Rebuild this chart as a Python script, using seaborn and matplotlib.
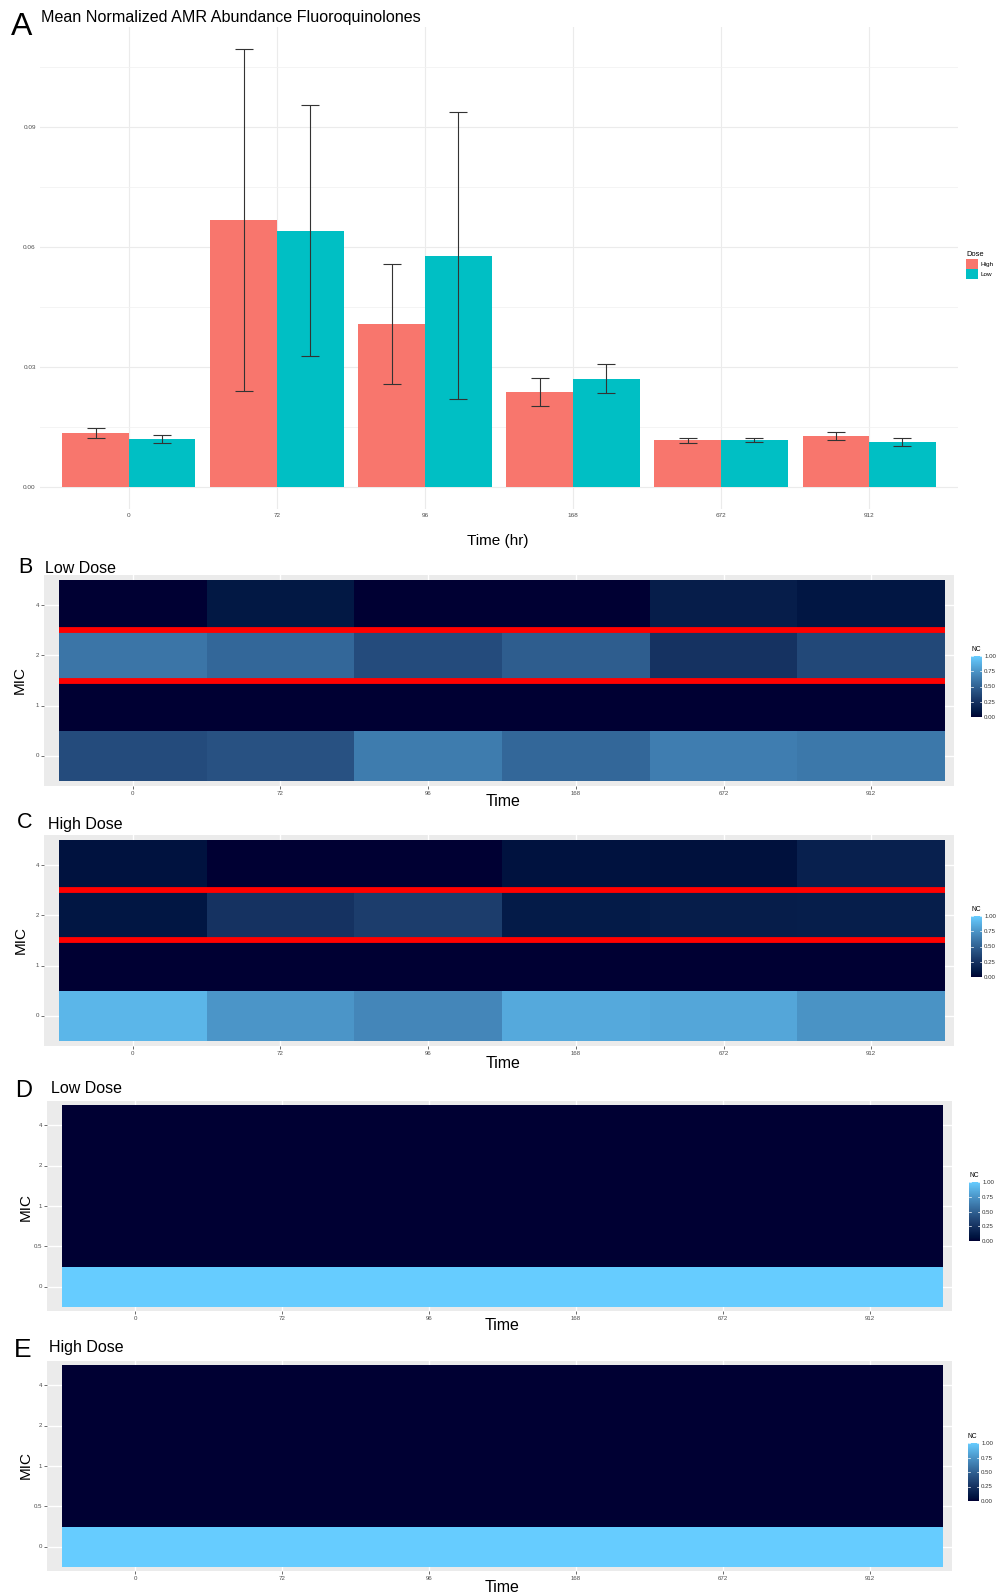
import numpy as np
import pandas as pd
import matplotlib
matplotlib.use("Agg")
import matplotlib.pyplot as plt
import matplotlib.colors as mcolors
from matplotlib.patches import Patch
import seaborn as sns

plt.rcParams['font.family'] = ['Liberation Sans', 'DejaVu Sans']

# ---------------- data ----------------
times = ["0", "72", "96", "168", "672", "912"]
doses = ["High", "Low"]

high_mean = [0.0134, 0.0667, 0.0406, 0.0237, 0.0117, 0.0128]
high_err = [0.00125, 0.0428, 0.0150, 0.0035, 0.0006, 0.0010]
low_mean = [0.0121, 0.0640, 0.0578, 0.0270, 0.0117, 0.0112]
low_err = [0.0010, 0.0313, 0.0358, 0.0036, 0.0005, 0.0010]

# MIC levels (top row first)
mic_bc = ["4", "2", "1", "0"]
mic_de = ["4", "2", "1", "0.5", "0"]

# Panel B: low dose, normalised counts per MIC level
b_mic4 = [0.00, 0.10, 0.00, 0.00, 0.13, 0.09]
b_mic2 = [0.60, 0.53, 0.39, 0.48, 0.25, 0.37]
b_mic1 = [0.00, 0.00, 0.00, 0.00, 0.00, 0.00]
b_mic0 = [0.39, 0.42, 0.63, 0.53, 0.64, 0.61]

# Panel C: high dose
c_mic4 = [0.07, 0.00, 0.00, 0.07, 0.06, 0.15]
c_mic2 = [0.09, 0.25, 0.31, 0.12, 0.13, 0.14]
c_mic1 = [0.00, 0.00, 0.00, 0.00, 0.00, 0.00]
c_mic0 = [0.90, 0.75, 0.68, 0.84, 0.83, 0.74]

# Panel D: low dose
d_mic4 = [0, 0, 0, 0, 0, 0]
d_mic2 = [0, 0, 0, 0, 0, 0]
d_mic1 = [0, 0, 0, 0, 0, 0]
d_mic05 = [0, 0, 0, 0, 0, 0]
d_mic0 = [1, 1, 1, 1, 1, 1]

# Panel E: high dose
e_mic4 = [0, 0, 0, 0, 0, 0]
e_mic2 = [0, 0, 0, 0, 0, 0]
e_mic1 = [0, 0, 0, 0, 0, 0]
e_mic05 = [0, 0, 0, 0, 0, 0]
e_mic0 = [1, 1, 1, 1, 1, 1]

nc_ticks = [0, 0.25, 0.5, 0.75, 1.0]
nc_tick_labels = ["0.00", "0.25", "0.50", "0.75", "1.00"]

# ---------------- colour ramp (CIELAB interpolation) ----------------
_M = np.array([[0.4124564, 0.3575761, 0.1804375],
               [0.2126729, 0.7151522, 0.0721750],
               [0.0193339, 0.1191920, 0.9503041]])
_Minv = np.linalg.inv(_M)
_white = np.array([0.95047, 1.0, 1.08883])


def to_lab(c):
    rgb = np.array(mcolors.to_rgb(c))
    lin = np.where(rgb <= 0.04045, rgb / 12.92, ((rgb + 0.055) / 1.055) ** 2.4)
    xyz = _M @ lin / _white
    d = 6 / 29
    f = np.where(xyz > d ** 3, np.cbrt(xyz), xyz / (3 * d ** 2) + 4 / 29)
    return np.array([116 * f[1] - 16, 500 * (f[0] - f[1]), 200 * (f[1] - f[2])])


def from_lab(lab):
    L, a, b = lab
    fy = (L + 16) / 116
    f = np.array([fy + a / 500, fy, fy - b / 200])
    d = 6 / 29
    xyz = np.where(f > d, f ** 3, 3 * d ** 2 * (f - 4 / 29)) * _white
    lin = np.clip(_Minv @ xyz, 0, None)
    rgb = np.where(lin <= 0.0031308, 12.92 * lin, 1.055 * lin ** (1 / 2.4) - 0.055)
    return np.clip(rgb, 0, 1)


lo, hi = to_lab("#000033"), to_lab("#66CCFF")
nc_cmap = mcolors.ListedColormap([from_lab(lo + (hi - lo) * t) for t in np.linspace(0, 1, 256)])

# ---------------- figure ----------------
W, H = 1006, 1595
fig = plt.figure(figsize=(W / 100, H / 100), dpi=100)
fig.patch.set_facecolor("white")


def box(l, t, r, b):
    return [l / W, 1 - b / H, (r - l) / W, (b - t) / H]


def ftext(x, y, s, **kw):
    return fig.text(x / W, 1 - y / H, s, **kw)


TICK_GREY = "#4D4D4D"

# ---- Panel A: bar chart ----
axA = fig.add_axes(box(40, 27, 958, 509))
bar_df = pd.DataFrame({
    "Time": times + times,
    "Dose": [doses[0]] * len(times) + [doses[1]] * len(times),
    "Mean": high_mean + low_mean,
})
pal = {"High": "#F8766D", "Low": "#00BFC4"}
sns.barplot(data=bar_df, x="Time", y="Mean", hue="Dose", order=times, hue_order=doses,
            palette=pal, width=0.9, gap=0, errorbar=None, saturation=1,
            legend=False, ax=axA, zorder=2)
pos = np.arange(len(times))
for off, m, e in [(-0.225, high_mean, high_err), (0.225, low_mean, low_err)]:
    axA.errorbar(pos + off, m, yerr=e, fmt="none", ecolor="#333333",
                 elinewidth=0.8, capsize=6.8, capthick=0.8, zorder=3)
axA.set_xlim(-0.6, 5.6)
axA.set_ylim(-0.0055, 0.1149)
axA.set_yticks([0, 0.03, 0.06, 0.09])
axA.set_yticklabels(["0.00", "0.03", "0.06", "0.09"])
axA.set_yticks([0.015, 0.045, 0.075, 0.105], minor=True)
axA.set_axisbelow(True)
axA.grid(axis="y", which="major", color="#EBEBEB", lw=0.8)
axA.grid(axis="y", which="minor", color="#F2F2F2", lw=0.6)
axA.grid(axis="x", which="major", color="#EBEBEB", lw=0.8)
for s in axA.spines.values():
    s.set_visible(False)
axA.tick_params(axis="both", which="both", length=0, labelsize=4.6,
                labelcolor=TICK_GREY, pad=3)
axA.set_xlabel("")
axA.set_ylabel("")
axA.legend(handles=[Patch(fc=pal["High"]), Patch(fc=pal["Low"])], labels=doses,
           title="Dose", loc="upper left", bbox_to_anchor=(966 / W, 1 - 251 / H),
           bbox_transform=fig.transFigure, frameon=False, fontsize=4.6,
           title_fontsize=5.4, handlelength=1.8, handleheight=2.0,
           handletextpad=0.4, labelspacing=0.1, alignment="left",
           borderpad=0, borderaxespad=0)

ftext(11, 35, "A", fontsize=23, va="baseline")
ftext(41, 22, "Mean Normalized AMR Abundance Fluoroquinolones", fontsize=11.6, va="baseline")
ftext(498, 541, "Time (hr)", fontsize=11, ha="center", va="center")


# ---- heatmap panels ----
def heat(rows, mic, rect, cbar_rect, line_ys):
    df = pd.DataFrame(rows, index=mic, columns=times)
    ax = fig.add_axes(box(*rect))
    cax = fig.add_axes(box(*cbar_rect))
    sns.heatmap(df, ax=ax, cbar_ax=cax, cmap=nc_cmap, vmin=0, vmax=1,
                cbar_kws={"ticks": nc_ticks})
    n = len(mic)
    ax.set_facecolor("#EBEBEB")
    ax.set_xlim(-0.1, len(times) + 0.06)
    ax.set_ylim(n + 0.1, -0.1)
    ax.set_axisbelow(True)
    ax.grid(True, color="white", lw=1.0)
    for y in line_ys:
        ax.hlines(y, 0, len(times), color="#FF0000", lw=4.2, zorder=4)
    ax.set_xlabel("")
    ax.set_ylabel("")
    ax.set_yticklabels(mic, rotation=0)
    ax.set_xticklabels(times, rotation=0)
    ax.tick_params(axis="both", length=2, width=0.5, color="#333333",
                   labelsize=4.4, labelcolor=TICK_GREY, pad=1.5)
    cbar = ax.collections[0].colorbar
    if cbar is not None:
        cbar.outline.set_visible(False)
    cax.set_yticks(nc_ticks)
    cax.set_yticklabels(nc_tick_labels)
    cax.tick_params(length=0, labelsize=4.4, labelcolor="#333333", pad=1.5)
    for s in cax.spines.values():
        s.set_visible(False)
    for t in nc_ticks:
        cax.plot([0, 0.22], [t, t], color="white", lw=0.5)
        cax.plot([0.78, 1.0], [t, t], color="white", lw=0.5)
    return ax


# Panel B
heat([b_mic4, b_mic2, b_mic1, b_mic0], mic_bc, (44, 575, 954, 786), (971, 656, 982, 717), [1, 2])
ftext(18, 573, "B", fontsize=15.5, va="baseline")
ftext(45, 573, "Low Dose", fontsize=11.5, va="baseline")
ftext(20, 680, "MIC", fontsize=11, rotation=90, ha="center", va="center")
ftext(503, 802, "Time", fontsize=11.5, ha="center", va="center")
ftext(971, 651, "NC", fontsize=4.8, va="baseline")

# Panel C
heat([c_mic4, c_mic2, c_mic1, c_mic0], mic_bc, (44, 835, 954, 1046), (971, 916, 982, 977), [1, 2])
ftext(17, 828, "C", fontsize=15.5, va="baseline")
ftext(48, 829, "High Dose", fontsize=11.5, va="baseline")
ftext(21, 940, "MIC", fontsize=11, rotation=90, ha="center", va="center")
ftext(503, 1063, "Time", fontsize=11.5, ha="center", va="center")
ftext(971, 911, "NC", fontsize=4.8, va="baseline")

# Panel D
heat([d_mic4, d_mic2, d_mic1, d_mic05, d_mic0], mic_de, (47, 1101, 952, 1311), (969, 1182, 980, 1241), [])
ftext(15, 1097, "D", fontsize=17, va="baseline")
ftext(51, 1093, "Low Dose", fontsize=11.5, va="baseline")
ftext(26, 1207, "MIC", fontsize=11, rotation=90, ha="center", va="center")
ftext(502, 1325, "Time", fontsize=11.5, ha="center", va="center")
ftext(969, 1177, "NC", fontsize=4.8, va="baseline")

# Panel E
heat([e_mic4, e_mic2, e_mic1, e_mic05, e_mic0], mic_de, (47, 1361, 952, 1571), (968, 1443, 979, 1501), [])
ftext(14, 1357, "E", fontsize=19, va="baseline")
ftext(49, 1352, "High Dose", fontsize=11.5, va="baseline")
ftext(26, 1465, "MIC", fontsize=11, rotation=90, ha="center", va="center")
ftext(502, 1587, "Time", fontsize=11.5, ha="center", va="center")
ftext(968, 1438, "NC", fontsize=4.8, va="baseline")

fig.savefig("out.png", dpi=100, facecolor="white")
